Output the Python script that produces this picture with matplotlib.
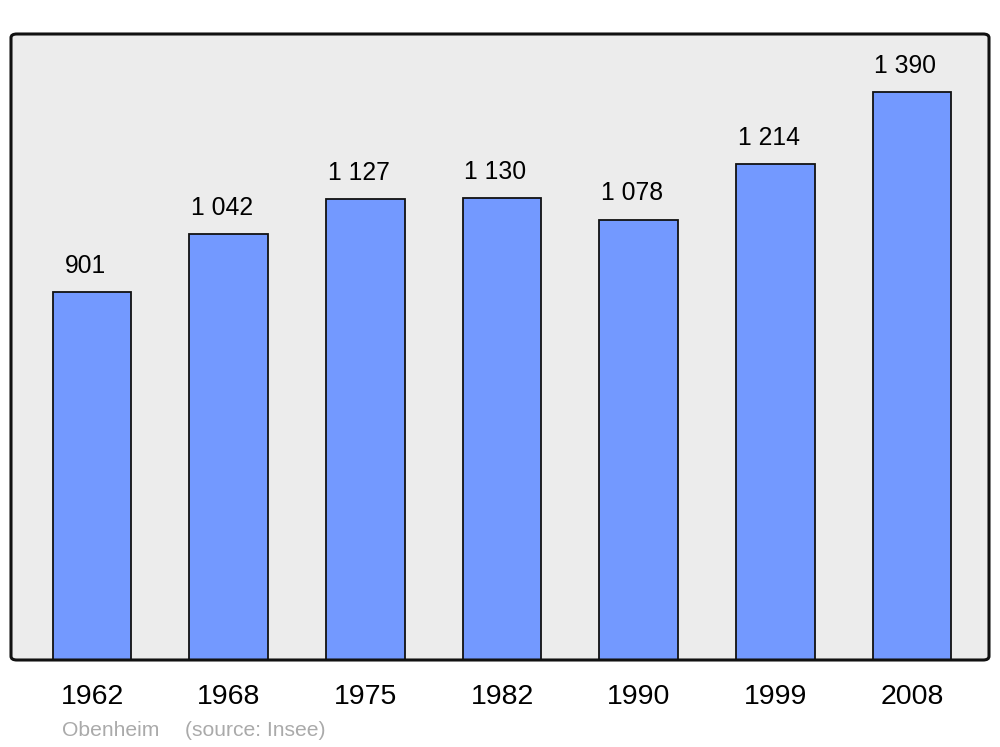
import matplotlib.pyplot as plt
from matplotlib.patches import FancyBboxPatch

plt.rcParams['font.family'] = ['Liberation Sans', 'DejaVu Sans']

# data
years = ['1962', '1968', '1975', '1982', '1990', '1999', '2008']
population = [901, 1042, 1127, 1130, 1078, 1214, 1390]
value_labels = ['901', '1 042', '1 127', '1 130', '1 078', '1 214', '1 390']

fig = plt.figure(figsize=(10, 7.47), dpi=100)
ax = fig.add_axes([0.011, 87 / 747, 0.978, 626 / 747])
ax.set_facecolor('none')

# rounded background frame
bg = FancyBboxPatch((0, 0), 1, 1, boxstyle='round,pad=0,rounding_size=0.006',
                    transform=ax.transAxes, facecolor='#ececec', edgecolor='none',
                    zorder=0, clip_on=False)
ax.add_patch(bg)
frame = FancyBboxPatch((0, 0), 1, 1, boxstyle='round,pad=0,rounding_size=0.006',
                       transform=ax.transAxes, facecolor='none', edgecolor='#111111',
                       linewidth=2.2, zorder=5, clip_on=False)
ax.add_patch(frame)

x = range(len(years))
ax.bar(x, population, width=0.575, color='#7399ff', edgecolor='#111111',
       linewidth=1.3, zorder=2)

for xi, v, lab in zip(x, population, value_labels):
    ax.text(xi - 0.05, v + 64, lab, ha='center', va='center', fontsize=17.8, zorder=3)

ax.set_xlim(-0.593, 6.563)
ax.set_ylim(0, 1532)
for s in ax.spines.values():
    s.set_visible(False)
ax.set_yticks([])
ax.set_xticks(list(x))
ax.set_xticklabels(years, fontsize=20.5)
ax.tick_params(axis='x', length=0, pad=17.5)

fig.text(0.062, 1 - 730 / 747, 'Obenheim', color='#aaaaaa', fontsize=15.2, va='center')
fig.text(0.185, 1 - 730 / 747, '(source: Insee)', color='#aaaaaa', fontsize=15.2, va='center')

fig.savefig('out.png', dpi=100)
